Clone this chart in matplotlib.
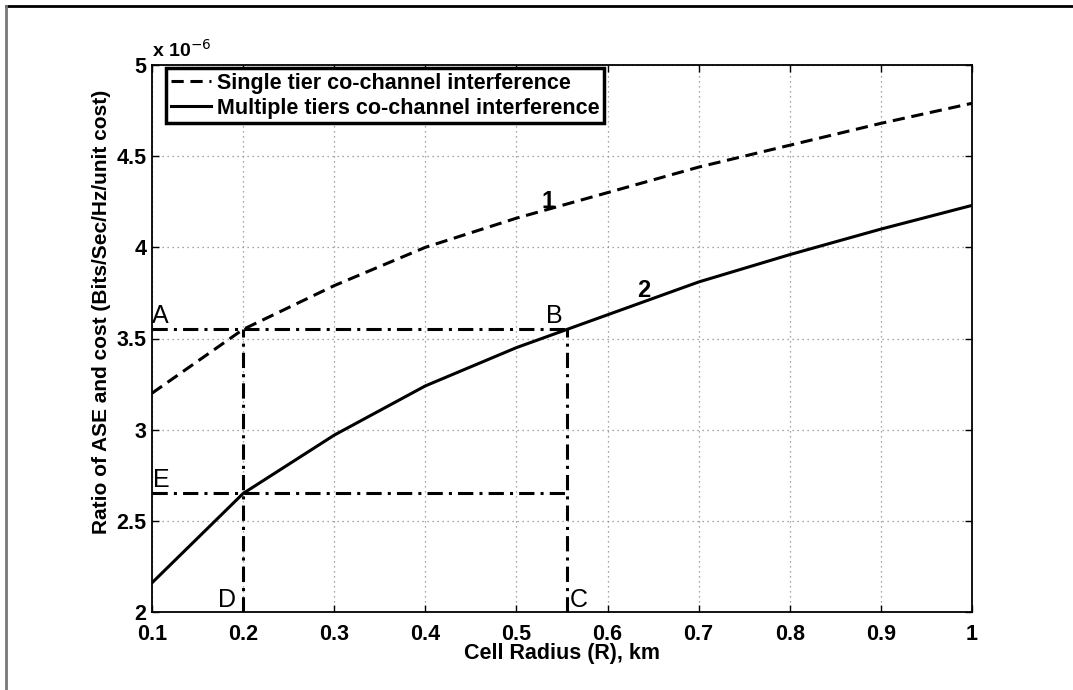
import matplotlib
matplotlib.use("Agg")
import matplotlib.pyplot as plt
from matplotlib.lines import Line2D

radius = [0.1, 0.2, 0.3, 0.4, 0.5, 0.6, 0.7, 0.8, 0.9, 1.0]
single_tier = [3.20, 3.55, 3.79, 4.00, 4.16, 4.30, 4.44, 4.56, 4.68, 4.79]
multi_tier = [2.16, 2.65, 2.97, 3.24, 3.45, 3.63, 3.81, 3.96, 4.10, 4.23]
level_hi = 3.55
level_lo = 2.65
r_d = 0.2
r_c = 0.556
xticks = [0.1, 0.2, 0.3, 0.4, 0.5, 0.6, 0.7, 0.8, 0.9, 1.0]
xticklabels = ["0.1", "0.2", "0.3", "0.4", "0.5", "0.6", "0.7", "0.8", "0.9", "1"]
yticks = [2, 2.5, 3, 3.5, 4, 4.5, 5]
yticklabels = ["2", "2.5", "3", "3.5", "4", "4.5", "5"]

plt.rcParams['font.family'] = ['Liberation Sans', 'DejaVu Sans']

fig = plt.figure(figsize=(10.73, 6.9), dpi=100)
ax = fig.add_axes([152/1073, 1-612/690, (972-152)/1073, (612-65)/690])

ax.plot(radius, single_tier, 'k--', lw=2.2, dashes=(4, 2.2), label='Single tier co-channel interference')
ax.plot(radius, multi_tier, 'k-', lw=2.2, label='Multiple tiers co-channel interference')

dd = dict(color='k', lw=2.2, ls=(0, (5, 2, 1, 2)))
ax.plot([0.1, r_c], [level_hi, level_hi], **dd)
ax.plot([0.1, r_c], [level_lo, level_lo], **dd)
ax.plot([r_d, r_d], [2, level_hi], **dd)
ax.plot([r_c, r_c], [2, level_hi], **dd)

tk = dict(fontsize=18, color='k')
ax.text(0.100, 3.56, 'A', ha='left', va='bottom', **tk)
ax.text(0.532, 3.56, 'B', ha='left', va='bottom', **tk)
ax.text(0.101, 2.66, 'E', ha='left', va='bottom', **tk)
ax.text(0.172, 2.0, 'D', ha='left', va='bottom', **tk)
ax.text(0.559, 2.0, 'C', ha='left', va='bottom', **tk)
ax.text(0.535, 4.19, '1', ha='center', va='bottom', fontsize=17, fontweight='bold')
ax.text(0.64, 3.70, '2', ha='center', va='bottom', fontsize=17, fontweight='bold')

ax.set_xlim(0.1, 1.0)
ax.set_ylim(2, 5)
ax.set_xticks(xticks)
ax.set_xticklabels(xticklabels)
ax.set_yticks(yticks)
ax.set_yticklabels(yticklabels)
for lab in ax.get_xticklabels() + ax.get_yticklabels():
    lab.set_fontweight('bold')
    lab.set_fontsize(15.5)
ax.tick_params(axis='x', direction='in', top=True, length=5, width=1, pad=8.5)
ax.tick_params(axis='y', direction='in', right=True, length=5, width=1, pad=4)
ax.grid(True, ls=(0, (1, 3)), color='#888888', lw=0.9)
for s in ax.spines.values():
    s.set_linewidth(1.3)

ax.set_xlabel('Cell Radius (R), km', fontsize=15.5, fontweight='bold', labelpad=-1)
ax.set_ylabel('Ratio of ASE and cost (Bits/Sec/Hz/unit cost)', fontsize=15, fontweight='bold')
ax.yaxis.set_label_coords(-0.050, 0.548)
ax.text(0.0, 1.008, r'x 10$^{-6}$', transform=ax.transAxes, ha='left', va='bottom',
        fontsize=14, fontweight='bold')

leg = ax.legend(loc='upper left', bbox_to_anchor=(11/820, 1.0), prop={'weight': 'bold', 'size': 15.5},
                frameon=True, fancybox=False, borderpad=0.2, handlelength=1.9, handletextpad=0.25,
                labelspacing=0.2, borderaxespad=0.15)
leg.get_frame().set_edgecolor('k')
leg.get_frame().set_linewidth(2.5)
leg.get_frame().set_alpha(1)

fig.add_artist(Line2D([6/1073, 1], [1-6/690, 1-6/690], color='k', lw=2, transform=fig.transFigure))
fig.add_artist(Line2D([6/1073, 6/1073], [0, 1-6/690], color='#777777', lw=2, transform=fig.transFigure))

fig.savefig('out.png', dpi=100)
